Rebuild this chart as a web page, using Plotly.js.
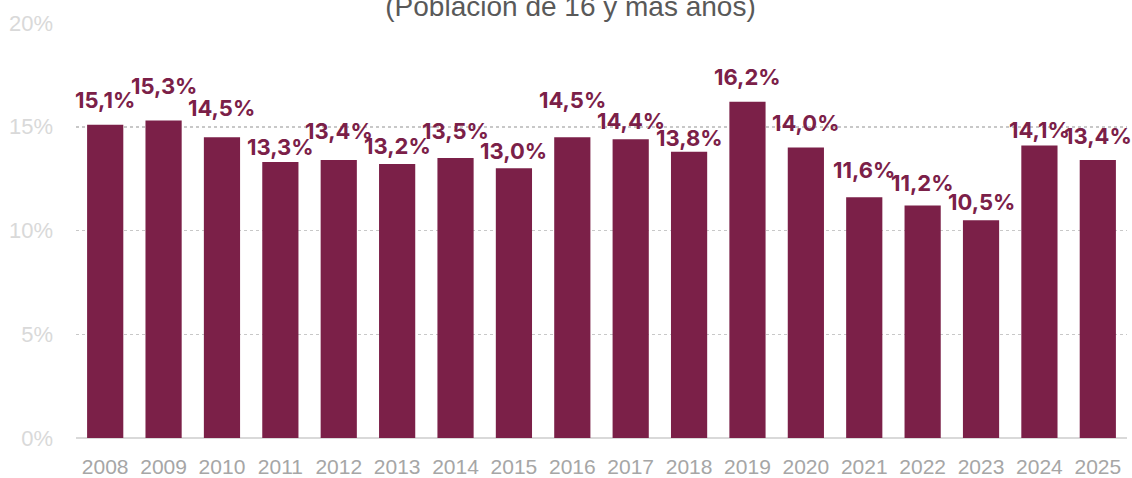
<!DOCTYPE html>
<html><head><meta charset="utf-8">
<script src="https://cdn.plot.ly/plotly-3.0.1.min.js"></script>
<style>html,body{margin:0;padding:0;background:#fff}#chart{width:1132px;height:478px}</style>
</head><body><div id="chart"></div>
<script>
const years = ['2008','2009','2010','2011','2012','2013','2014','2015','2016','2017','2018','2019','2020','2021','2022','2023','2024','2025'];
const values = [15.1,15.3,14.5,13.3,13.4,13.2,13.5,13.0,14.5,14.4,13.8,16.2,14.0,11.6,11.2,10.5,14.1,13.4];
const yTicks = [0,5,10,15,20];
const yTickText = ['0%','5%','10%','15%','20%'];
const titleText = '(Población de 16 y más años)';
// label lift above bar top (px), staggered as in the original to avoid overlaps
const labelLift = [25,35,29,15,29,18,27,17,37,18,14,25,25,27,23,18,15,24];

const labels = values.map(v => v.toFixed(1).replace('.', ',') + '%');
const maroon = '#7B2048';
const boldFont = "Inter, 'Liberation Sans', Arial, sans-serif";
const font = "'Liberation Sans', Arial, sans-serif";

const annotations = years.map((y, i) => ({
  x: i, y: values[i], xref: 'x', yref: 'y', text: labels[i],
  showarrow: false, yanchor: 'middle', yshift: labelLift[i],
  font: {family: boldFont, size: 22, color: maroon, weight: 700}
}));

Plotly.newPlot('chart', [{
  type: 'bar', x: years, y: values,
  marker: {color: maroon},
  hoverinfo: 'skip'
}], {
  width: 1132, height: 478,
  margin: {l: 76, r: 5, t: 23, b: 40},
  bargap: 0.38,
  paper_bgcolor: '#fff', plot_bgcolor: '#fff',
  showlegend: false,
  title: {text: titleText, x: 0.504, xanchor: 'center', y: 0.987, yanchor: 'middle', yref: 'container',
          font: {family: font, size: 28, color: '#595959'}},
  xaxis: {type: 'category', range: [-0.5, 17.5], showgrid: false, ticks: '', showline: false,
          tickfont: {family: font, size: 21, color: '#A6A6A6'}, ticklabelstandoff: 14},
  yaxis: {range: [0, 20], tickvals: yTicks, ticktext: yTickText, showgrid: true,
          gridcolor: '#C8C8C8', griddash: 'dot', gridwidth: 1.5,
          zeroline: true, zerolinecolor: '#D9D9D9', zerolinewidth: 2,
          ticks: '', ticklabelstandoff: 22,
          tickfont: {family: font, size: 22, color: '#D9D9D9'}},
  annotations: annotations
}, {displayModeBar: false, staticPlot: true});
</script></body></html>
